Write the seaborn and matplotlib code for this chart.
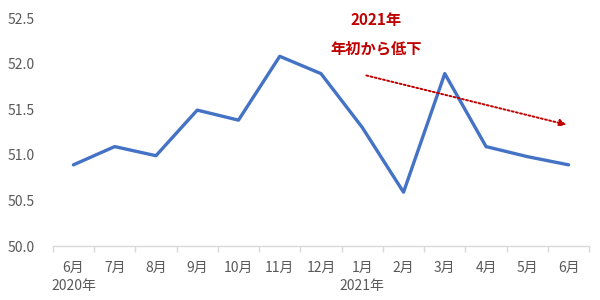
import matplotlib
matplotlib.use("Agg")
import matplotlib.pyplot as plt
import seaborn as sns
import pandas as pd
import numpy as np

months = ["6月", "7月", "8月", "9月", "10月", "11月", "12月", "1月", "2月", "3月", "4月", "5月", "6月"]
years = ["2020年", "", "", "", "", "", "", "2021年", "", "", "", "", ""]
values = [50.89, 51.09, 50.99, 51.49, 51.38, 52.08, 51.89, 51.30, 50.59, 51.89, 51.09, 50.98, 50.89]
yticks = [50.0, 50.5, 51.0, 51.5, 52.0, 52.5]
arrow_start = (7.1, 51.87)
arrow_end = (11.95, 51.33)
title_lines = ["2021年", "年初から低下"]

sns.set_theme(style="white")
plt.rcParams['font.family'] = ['Noto Sans CJK JP', 'DejaVu Sans']

df = pd.DataFrame({"idx": np.arange(len(values)), "value": values})

fig = plt.figure(figsize=(6, 3), dpi=100)
ax = fig.add_axes([0.088, 0.18, 0.894, 0.76])
sns.lineplot(data=df, x="idx", y="value", ax=ax, color="#4472C4", linewidth=2.4)

ax.set_xlim(-0.5, len(values) - 0.5)
ax.set_ylim(50.0, 52.5)
ax.set_yticks(yticks)
ax.set_yticklabels([f"{v:.1f}" for v in yticks], color="#595959", fontsize=10)
ax.set_xticks(np.arange(len(values)))
labels = [m if y == "" else f"{m}\n{y}" for m, y in zip(months, years)]
ax.set_xticklabels(labels, color="#595959", fontsize=10, linespacing=1.35)
for lbl in ax.get_xticklabels():
    lbl.set_verticalalignment("top")
ax.tick_params(axis="x", length=0, pad=11)
ax.tick_params(axis="y", length=0, pad=13)
ax.set_xlabel("")
ax.set_ylabel("")

for s in ["top", "right", "left"]:
    ax.spines[s].set_visible(False)
ax.spines["bottom"].set_color("#D9D9D9")
ax.spines["bottom"].set_linewidth(1)

# minor ticks between categories (Excel style)
ax.set_xticks(np.arange(-0.5, len(values)), minor=True)
ax.tick_params(axis="x", which="minor", length=4, color="#D9D9D9", width=1, direction="out", bottom=True)

ax.annotate("", xy=arrow_end, xytext=arrow_start,
            arrowprops=dict(arrowstyle="-|>", linestyle=(0, (1, 1.2)), color="#C00000",
                            lw=1.4, mutation_scale=10, shrinkA=0, shrinkB=0))

fig.text(376 / 600, 1 - 20 / 300, title_lines[0], color="#C00000", fontsize=11,
         fontweight="bold", ha="center", va="center")
fig.text(376 / 600, 1 - 48 / 300, title_lines[1], color="#C00000", fontsize=11,
         fontweight="bold", ha="center", va="center")

fig.savefig("out.png", dpi=100, facecolor="white")
